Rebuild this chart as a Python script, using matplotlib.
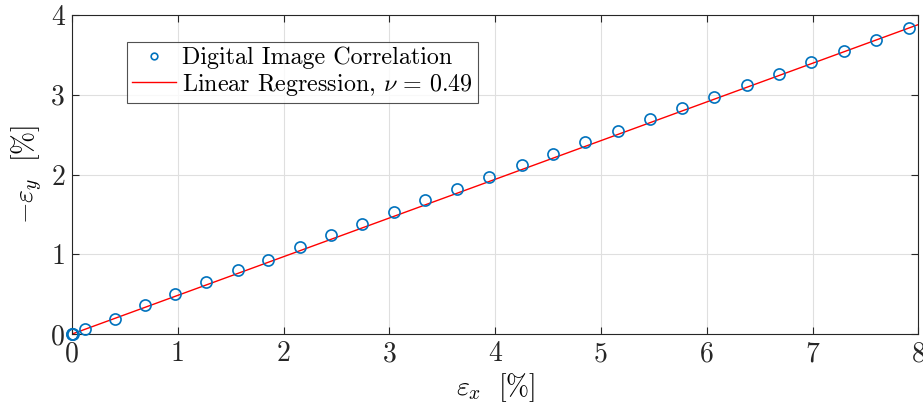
import matplotlib
matplotlib.use("Agg")
import matplotlib.pyplot as plt

plt.rcParams["font.family"] = "cmr10"
plt.rcParams["mathtext.fontset"] = "cm"
plt.rcParams["axes.unicode_minus"] = False
plt.rcParams["axes.formatter.use_mathtext"] = True

# DIC measurements, strains in %
eps_x = [0.0, 0.004, 0.008, 0.123, 0.407, 0.690, 0.977, 1.267, 1.567, 1.856,
         2.156, 2.446, 2.745, 3.042, 3.341, 3.641, 3.946, 4.252, 4.551, 4.850,
         5.157, 5.463, 5.765, 6.071, 6.376, 6.686, 6.985, 7.294, 7.600, 7.912]
neg_eps_y = [0.0, 0.002, 0.004, 0.063, 0.183, 0.364, 0.506, 0.652, 0.798, 0.932,
             1.092, 1.242, 1.384, 1.531, 1.676, 1.819, 1.970, 2.115, 2.258, 2.405,
             2.551, 2.693, 2.836, 2.974, 3.119, 3.266, 3.408, 3.546, 3.689, 3.831]

# regression line end points
fit_x = [0.0, 8.0]
fit_y = [0.0, 3.88]

xticks = [0, 1, 2, 3, 4, 5, 6, 7, 8]
yticks = [0, 1, 2, 3, 4]

fig = plt.figure(figsize=(9.23, 4.16), dpi=100)
ax = fig.add_axes([0.078, 0.197, 0.917, 0.767])

ax.plot(eps_x, neg_eps_y, "o", mfc="none", mec="#0072BD", ms=8, mew=1.2,
        label="Digital Image Correlation", zorder=3, clip_on=False)
ax.plot(fit_x, fit_y, "-", color="red", lw=1.0,
        label=r"Linear Regression, $\nu\,=\,0.49$", zorder=2)

ax.set_xlim(0, 8)
ax.set_ylim(0, 4)
ax.set_xticks(xticks)
ax.set_yticks(yticks)
ax.set_xticklabels([str(t) for t in xticks])
ax.set_yticklabels([str(t) for t in yticks])
ax.tick_params(direction="in", top=True, right=True, length=5, width=0.8,
               labelsize=20, colors="#262626", pad=5)
for s in ax.spines.values():
    s.set_color("#262626")
    s.set_linewidth(0.8)
ax.grid(True, color="#dfdfdf", lw=0.8)
ax.set_axisbelow(True)

ax.set_xlabel(r"$\varepsilon_x\ \ [\%]$", fontsize=20, labelpad=3)
ax.set_ylabel(r"$-\varepsilon_y\ \ [\%]$", fontsize=20, labelpad=4)

leg = ax.legend(loc="upper left", bbox_to_anchor=(0.065, 0.915), fontsize=17.3,
                frameon=True, fancybox=False, edgecolor="#262626",
                handlelength=1.85, handletextpad=0.25, borderpad=0.2,
                labelspacing=0.1, markerscale=0.6, borderaxespad=0)
leg.get_frame().set_linewidth(0.8)

fig.savefig("out.png", dpi=100)
